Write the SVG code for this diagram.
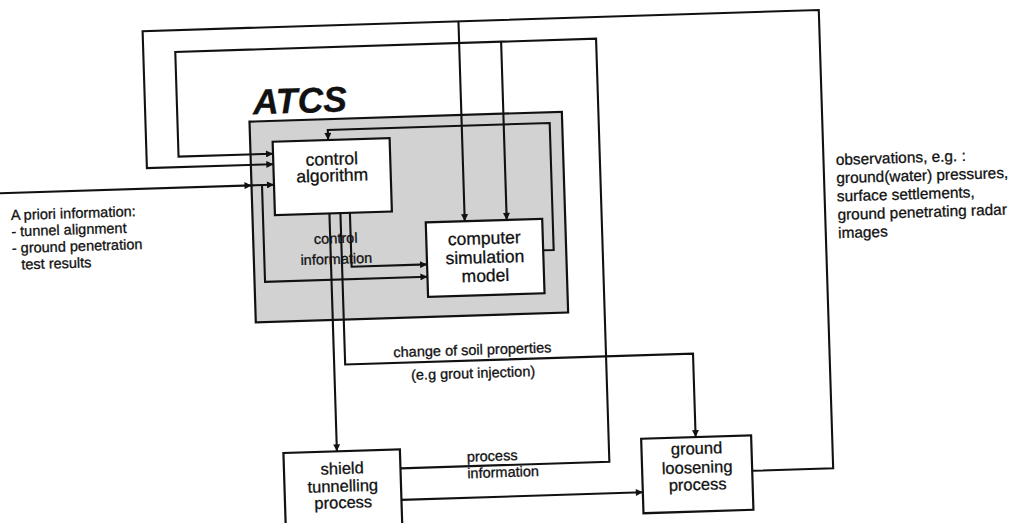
<svg xmlns="http://www.w3.org/2000/svg" width="1009" height="523" viewBox="0 0 1009 523">
<style>
.box{fill:#fff;stroke:#111;stroke-width:2.2}
.atcs{fill:#d2d2d2;stroke:#111;stroke-width:2.2}
.ln{fill:none;stroke:#111;stroke-width:2.1;stroke-linejoin:miter}
.arr{marker-end:url(#ah)}
text{stroke:#111;stroke-width:0.3}
.nt{font-family:"Liberation Sans",Arial,Helvetica,sans-serif;font-size:17.5px;fill:#111;text-anchor:middle}
.nb{font-family:"Liberation Sans",Arial,Helvetica,sans-serif;font-size:16.5px;fill:#111;text-anchor:middle}
.lb{font-family:"Liberation Sans",Arial,Helvetica,sans-serif;font-size:14.5px;fill:#111}
.ob{font-family:"Liberation Sans",Arial,Helvetica,sans-serif;font-size:15.4px;fill:#111}
.title{font-family:"Liberation Sans",Arial,Helvetica,sans-serif;font-size:35.5px;font-weight:bold;font-style:italic;fill:#111}
</style>
<defs>
<marker id="ah" viewBox="0 0 10 10" refX="10" refY="5" markerWidth="8" markerHeight="7" markerUnits="userSpaceOnUse" orient="auto">
<path d="M0,0 L10,5 L0,10 z" fill="#111"/>
</marker>
</defs>
<rect width="1009" height="523" fill="#ffffff"/>
<g transform="rotate(-1.8 504 261)">
<g id="atcs">
<rect class="atcs" x="254" y="113.7" width="312.5" height="200.8"/>
<text class="title" x="258" y="106.5">ATCS</text>
</g>
<g id="connectors">
<path class="ln arr" d="M745.5,478.5 H826.5 V20 H150 V157 H276.5"/>
<path class="ln arr" d="M466,20 V220"/>
<path class="ln arr" d="M394,465 H603 V41.7 H182 V146.5 H276.5"/>
<path class="ln arr" d="M508,41.7 V220"/>
<path class="ln arr" d="M-10,177.5 H254"/>
<path class="ln arr" d="M254,177.5 H276.5"/>
<path class="ln arr" d="M264.5,177.5 V274.3 H427"/>
<path class="ln arr" d="M543.5,251.5 H554 V124.5 H332 V134.5"/>
<path class="ln arr" d="M331,208 V446"/>
<path class="ln arr" d="M342,208 V359.5 H690 V443"/>
<path class="ln arr" d="M351.5,208 V262 H427"/>
<path class="ln arr" d="M394,496.5 H635.5"/>
</g>
<g id="control-algorithm">
<rect class="box" x="276.5" y="134.5" width="117" height="73.5"/>
<text class="nt" x="335" y="159.5">control</text>
<text class="nt" x="335" y="176">algorithm</text>
</g>
<g id="computer-simulation-model">
<rect class="box" x="427" y="220" width="116.5" height="74.5"/>
<text class="nt" x="485" y="243.5">computer</text>
<text class="nt" x="485" y="262.5">simulation</text>
<text class="nt" x="485" y="281">model</text>
</g>
<g id="shield-tunnelling-process">
<rect class="box" x="277.5" y="446" width="116.5" height="82"/>
<text class="nb" x="335.8" y="468.8">shield</text>
<text class="nb" x="335.8" y="486.5">tunnelling</text>
<text class="nb" x="335.8" y="503">process</text>
</g>
<g id="ground-loosening-process">
<rect class="box" x="635.5" y="443" width="110" height="74.5"/>
<text class="nb" x="690.5" y="460">ground</text>
<text class="nb" x="690.5" y="479">loosening</text>
<text class="nb" x="690.5" y="496">process</text>
</g>
<g id="labels">
<text class="lb" x="336.5" y="238" text-anchor="middle">control</text>
<text class="lb" x="336.5" y="258.7" text-anchor="middle">information</text>
<text class="lb" x="469.6" y="353.8" text-anchor="middle">change of soil properties</text>
<text class="lb" x="469.6" y="377" text-anchor="middle">(e.g grout injection)</text>
<text class="lb" x="460.6" y="460.4">process</text>
<text class="lb" x="460.6" y="477">information</text>
<text class="lb" x="12.5" y="204.6">A priori information:</text>
<text class="lb" x="12.5" y="221">- tunnel alignment</text>
<text class="lb" x="12.5" y="237.7">- ground penetration</text>
<text class="lb" x="21.5" y="254.3">test results</text>
<text class="ob" x="838.8" y="175.5">observations, e.g. :</text>
<text class="ob" x="838.8" y="193.8">ground(water) pressures,</text>
<text class="ob" x="838.8" y="212.1">surface settlements,</text>
<text class="ob" x="838.8" y="230.4">ground penetrating radar</text>
<text class="ob" x="838.8" y="248.7">images</text>
</g>
</g>
</svg>
